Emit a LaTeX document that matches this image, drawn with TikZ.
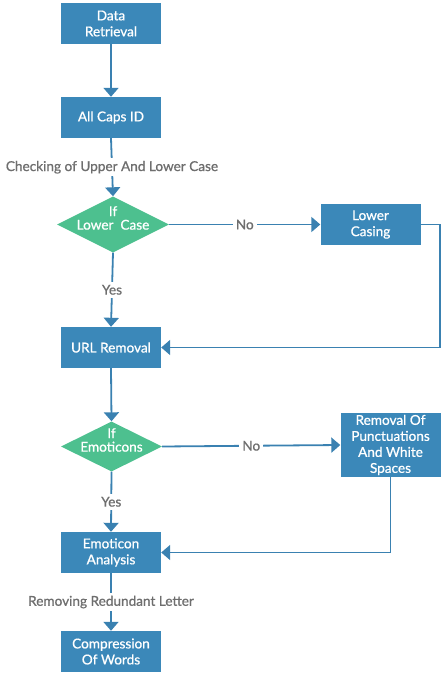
\documentclass[tikz,border=0pt]{standalone}
\usepackage{fontspec}
\setmainfont[FakeBold=0.8]{Lato}
\usetikzlibrary{shapes.geometric,arrows.meta}
\definecolor{boxblue}{HTML}{3B88B9}
\definecolor{diagreen}{HTML}{4DC08F}
\definecolor{lineblue}{HTML}{3A81B1}
\definecolor{labelgray}{HTML}{6E6E6E}
\begin{document}
\begin{tikzpicture}[x=1pt,y=-1pt,
  box/.style={rectangle, fill=boxblue, text=white, minimum width=100pt, minimum height=41pt, inner sep=2pt, align=center, font=\fontsize{13.6}{16}\selectfont},
  dia/.style={diamond, fill=diagreen, inner sep=0pt},
  dtext/.style={text=white, align=center, font=\fontsize{13.6}{13.5}\selectfont, inner sep=0pt},
  conn/.style={draw=lineblue, line width=1.8pt, -{Triangle[width=15pt,length=9pt]}},
  lbl/.style={fill=white, text=labelgray, font=\fontsize{13.6}{14}\selectfont, inner sep=3pt}]
\useasboundingbox (0,0) rectangle (445,674);

\node[box] (dr) at (111,23.5) {Data\\Retrieval};
\node[box] (ac) at (111,117.5) {All Caps ID};
\node[dia, minimum width=112pt, minimum height=56pt] (d1) at (113,224.5) {};
\node[dtext] (t1) at (113,218) {If\\Lower~~Case};
\node[box] (lc) at (370.5,224.5) {Lower\\Casing};
\node[box] (url) at (111,347.5) {URL Removal};
\node[dia, minimum width=101pt, minimum height=50pt] (d2) at (111.5,446.5) {};
\node[dtext] (t2) at (111.5,440) {If\\Emoticons};
\node[box, minimum height=64pt] (rm) at (390.5,445) {Removal Of\\Punctuations\\And White\\Spaces};
\node[box] (ea) at (111,552.5) {Emoticon\\Analysis};
\node[box] (cw) at (111,651.5) {Compression\\Of Words};

\coordinate (c1) at (440,224.5);

\draw[conn] (dr) -- (ac);
\draw[conn] (ac.south) -- node[lbl] {Checking of Upper And Lower Case} (d1.north);
\draw[conn] (d1.east) -- node[lbl] {No} (lc.west);
\draw[conn] (d1.south) -- node[lbl] {Yes} (url.north);
\draw[conn] (lc.east) -- (c1) |- (url.east);
\draw[conn] (url.south) -- (d2.north);
\draw[conn] (d2.east) -- node[lbl] {No} (rm.west);
\draw[conn] (d2.south) -- node[lbl] {Yes} (ea.north);
\draw[conn] (rm.south) |- (ea.east);
\draw[conn] (ea.south) -- node[lbl] {Removing Redundant Letter} (cw.north);
\end{tikzpicture}
\end{document}
